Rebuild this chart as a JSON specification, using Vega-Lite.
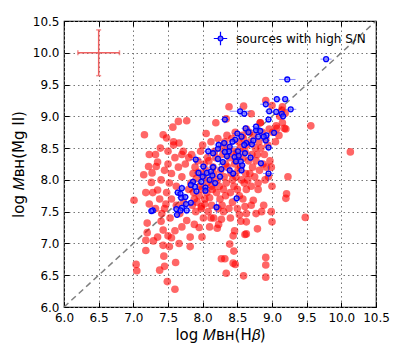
{
  "$schema": "https://vega.github.io/schema/vega-lite/v6.json",
  "autosize": "none",
  "width": 312,
  "height": 286,
  "padding": {"left": 64, "top": 21, "right": 23, "bottom": 43},
  "background": "white",
  "config": {
    "view": {"stroke": "#000000", "strokeWidth": 1.2},
    "font": "DejaVu Sans",
    "axis": {"labelFont": "DejaVu Sans", "titleFont": "DejaVu Sans", "labelFontSize": 12, "titleFontSize": 15, "labelColor": "#000", "titleColor": "#000", "titleFontWeight": "normal", "tickColor": "#000", "domain": false, "labelOverlap": false, "labelFlush": false}
  },
  "datasets": {
    "diag": [{"x": 6.0, "y": 6.0, "x2": 10.5, "y2": 10.5}],
    "red": [
      {"x":7.01,"y":7.68},{"x":7.04,"y":6.67},{"x":7.05,"y":6.57},{"x":7.16,"y":8.71},{"x":7.15,"y":8.08},{"x":7.18,"y":7.80},{"x":7.23,"y":7.62},{"x":7.20,"y":7.32},{"x":7.20,"y":7.17},{"x":7.18,"y":7.05},{"x":7.18,"y":6.89},{"x":7.29,"y":7.04},{"x":7.23,"y":8.40},{"x":7.32,"y":8.40},{"x":7.33,"y":8.21},{"x":7.22,"y":8.21},{"x":7.27,"y":8.11},{"x":7.26,"y":7.96},{"x":7.35,"y":7.84},{"x":7.38,"y":6.58},{"x":7.43,"y":6.97},{"x":7.44,"y":6.80},{"x":7.45,"y":6.64},{"x":7.39,"y":8.50},{"x":7.43,"y":8.71},{"x":7.48,"y":8.66},{"x":7.43,"y":7.21},{"x":7.41,"y":7.47},{"x":7.47,"y":7.62},{"x":7.53,"y":7.40},{"x":7.50,"y":7.12},{"x":7.55,"y":7.09},{"x":7.49,"y":6.40},{"x":7.60,"y":6.28},{"x":7.61,"y":6.70},{"x":7.57,"y":8.83},{"x":7.58,"y":8.55},{"x":7.65,"y":8.92},{"x":7.77,"y":8.93},{"x":7.66,"y":8.58},{"x":7.72,"y":8.45},{"x":7.70,"y":7.26},{"x":7.82,"y":6.95},{"x":7.82,"y":7.10},{"x":7.67,"y":7.47},{"x":7.77,"y":7.36},{"x":7.35,"y":8.28},{"x":7.40,"y":8.00},{"x":7.45,"y":8.15},{"x":7.50,"y":8.25},{"x":7.55,"y":8.10},{"x":7.52,"y":7.95},{"x":7.48,"y":7.80},{"x":7.60,"y":8.35},{"x":7.65,"y":8.20},{"x":7.70,"y":8.05},{"x":7.62,"y":7.90},{"x":7.55,"y":7.70},{"x":7.45,"y":7.55},{"x":7.38,"y":7.70},{"x":7.32,"y":7.55},{"x":7.28,"y":7.80},{"x":7.58,"y":8.60},{"x":7.50,"y":8.45},{"x":7.70,"y":8.40},{"x":7.75,"y":8.25},{"x":7.62,"y":7.60},{"x":7.72,"y":7.65},{"x":7.80,"y":8.35},{"x":7.80,"y":7.85},{"x":7.85,"y":7.60},{"x":7.88,"y":7.30},{"x":7.60,"y":7.20},{"x":7.40,"y":7.35},{"x":7.35,"y":7.10},{"x":7.52,"y":6.95},{"x":7.66,"y":7.00},
      {"x":7.86,"y":8.10},{"x":7.83,"y":7.95},{"x":7.87,"y":7.80},{"x":7.84,"y":8.40},{"x":7.88,"y":7.70},{"x":7.91,"y":8.02},{"x":7.89,"y":8.20},{"x":7.92,"y":7.65},{"x":7.90,"y":7.50},{"x":7.93,"y":8.30},{"x":7.96,"y":7.90},{"x":7.94,"y":8.12},{"x":7.97,"y":8.45},{"x":7.95,"y":7.75},{"x":7.98,"y":7.58},{"x":8.01,"y":8.05},{"x":7.99,"y":7.85},{"x":8.02,"y":8.25},{"x":8.00,"y":8.55},{"x":8.03,"y":7.70},{"x":7.98,"y":7.55},{"x":8.01,"y":7.40},{"x":8.06,"y":7.95},{"x":8.04,"y":8.15},{"x":8.07,"y":8.35},{"x":8.05,"y":8.73},{"x":8.03,"y":7.62},{"x":8.06,"y":7.80},{"x":8.11,"y":8.00},{"x":8.09,"y":8.30},{"x":8.12,"y":8.60},{"x":8.10,"y":7.72},{"x":8.08,"y":7.50},{"x":8.13,"y":7.90},{"x":8.16,"y":8.10},{"x":8.14,"y":7.85},{"x":8.17,"y":8.45},{"x":8.15,"y":8.20},{"x":8.13,"y":7.60},{"x":8.16,"y":7.40},{"x":8.21,"y":8.00},{"x":8.19,"y":8.35},{"x":8.22,"y":8.65},{"x":8.20,"y":7.80},{"x":8.19,"y":8.90},{"x":8.22,"y":7.55},{"x":8.26,"y":8.15},{"x":8.24,"y":7.90},{"x":8.27,"y":8.50},{"x":8.25,"y":7.70},{"x":8.23,"y":7.30},{"x":8.31,"y":8.05},{"x":8.29,"y":8.40},{"x":8.32,"y":8.60},{"x":8.30,"y":7.85},{"x":8.28,"y":7.60},{"x":8.33,"y":8.25},{"x":8.36,"y":8.20},{"x":8.34,"y":7.95},{"x":8.37,"y":8.50},{"x":8.35,"y":8.70},{"x":8.33,"y":7.75},{"x":8.34,"y":8.96},{"x":8.41,"y":8.10},{"x":8.39,"y":8.35},{"x":8.42,"y":8.65},{"x":8.40,"y":7.80},{"x":8.38,"y":7.55},{"x":8.43,"y":8.00},{"x":8.46,"y":8.25},{"x":8.44,"y":8.45},{"x":8.47,"y":8.75},{"x":8.45,"y":7.90},{"x":8.43,"y":7.65},{"x":8.48,"y":8.05},{"x":8.51,"y":8.15},{"x":8.49,"y":8.40},{"x":8.52,"y":8.60},{"x":8.50,"y":7.85},{"x":8.48,"y":8.30},{"x":8.53,"y":7.45},{"x":8.56,"y":8.00},{"x":8.54,"y":8.50},{"x":8.57,"y":8.70},{"x":8.55,"y":8.20},{"x":8.53,"y":7.75},{"x":8.58,"y":8.35},{"x":8.61,"y":8.45},{"x":8.59,"y":8.65},{"x":8.62,"y":8.10},{"x":8.60,"y":7.95},{"x":8.58,"y":7.70},{"x":8.63,"y":8.80},{"x":8.61,"y":7.58},{"x":8.66,"y":8.30},{"x":8.64,"y":8.55},{"x":8.67,"y":8.75},{"x":8.65,"y":8.00},{"x":8.63,"y":7.85},{"x":8.71,"y":8.40},{"x":8.69,"y":8.60},{"x":8.72,"y":8.20},{"x":8.70,"y":7.90},{"x":8.68,"y":8.10},{"x":8.76,"y":8.50},{"x":8.74,"y":8.70},{"x":8.77,"y":8.30},{"x":8.75,"y":8.05},{"x":8.73,"y":7.68},{"x":8.81,"y":8.60},{"x":8.79,"y":8.40},{"x":8.82,"y":8.15},{"x":8.80,"y":7.95},{"x":8.86,"y":8.75},{"x":8.84,"y":8.50},{"x":8.87,"y":8.25},{"x":8.85,"y":7.50},{"x":8.83,"y":8.90},{"x":8.91,"y":8.65},{"x":8.89,"y":8.40},{"x":8.92,"y":8.20},{"x":8.90,"y":8.00},{"x":8.88,"y":7.60},{"x":8.96,"y":8.80},{"x":8.94,"y":8.55},{"x":8.97,"y":8.30},{"x":8.95,"y":8.05},{"x":9.01,"y":8.75},{"x":8.99,"y":8.20},{"x":9.00,"y":7.90},{"x":8.99,"y":7.50},{"x":9.00,"y":7.34},{"x":9.00,"y":9.17},{"x":9.05,"y":8.60},{"x":9.06,"y":8.85},{"x":9.10,"y":8.70},{"x":9.11,"y":9.00},{"x":9.15,"y":8.90},{"x":9.14,"y":9.10},{"x":9.20,"y":8.80},{"x":9.19,"y":9.05},{"x":9.23,"y":8.05},{"x":9.21,"y":7.78},{"x":9.20,"y":7.71},
      {"x":8.10,"y":7.26},{"x":8.21,"y":7.24},{"x":8.12,"y":7.40},{"x":8.27,"y":7.38},{"x":7.95,"y":7.25},{"x":7.99,"y":7.10},{"x":8.39,"y":6.99},{"x":8.45,"y":6.88},{"x":8.27,"y":6.76},{"x":8.32,"y":6.76},{"x":8.34,"y":6.53},{"x":8.44,"y":6.69},{"x":8.47,"y":6.67},{"x":8.59,"y":6.49},{"x":8.44,"y":7.12},{"x":8.46,"y":7.20},{"x":8.61,"y":7.14},{"x":8.63,"y":7.15},{"x":8.63,"y":7.34},{"x":8.63,"y":7.47},{"x":8.79,"y":7.23},{"x":8.77,"y":7.47},{"x":8.91,"y":6.66},{"x":8.91,"y":6.78},{"x":8.91,"y":6.47},{"x":9.48,"y":7.41},{"x":9.56,"y":8.85},{"x":10.13,"y":8.44},{"x":8.70,"y":9.04},{"x":8.83,"y":8.90},{"x":8.91,"y":9.25},{"x":9.15,"y":9.15},{"x":9.07,"y":8.81},{"x":9.18,"y":8.81},{"x":8.55,"y":7.35},{"x":8.50,"y":7.55},{"x":8.40,"y":7.40},{"x":8.30,"y":7.50},{"x":8.70,"y":7.60},{"x":8.80,"y":7.85},{"x":8.59,"y":9.16},{"x":8.38,"y":9.15}
    ],
    "blue": [
      {"x":9.78,"y":9.90,"xe":0.08,"ye":0.03},{"x":9.22,"y":9.58,"xe":0.12,"ye":0.03},{"x":9.07,"y":9.27,"xe":0.06,"ye":0.05},{"x":9.19,"y":9.27,"xe":0.05,"ye":0.04},{"x":8.91,"y":9.19,"xe":0.08,"ye":0.06},{"x":8.96,"y":9.08,"xe":0.06,"ye":0.05},{"x":9.27,"y":9.11,"xe":0.08,"ye":0.04},{"x":9.06,"y":9.07,"xe":0.05,"ye":0.05},{"x":9.14,"y":9.04,"xe":0.05,"ye":0.05},{"x":9.16,"y":9.00,"xe":0.04,"ye":0.04},{"x":8.54,"y":9.08,"xe":0.15,"ye":0.08},{"x":8.60,"y":9.04,"xe":0.07,"ye":0.05},{"x":8.32,"y":8.95,"xe":0.06,"ye":0.06},{"x":8.95,"y":8.95,"xe":0.05,"ye":0.05},{"x":9.03,"y":8.74,"xe":0.08,"ye":0.05},{"x":8.91,"y":8.62,"xe":0.06,"ye":0.05},{"x":8.92,"y":8.70,"xe":0.05,"ye":0.05},{"x":8.95,"y":8.51,"xe":0.06,"ye":0.06},{"x":8.77,"y":8.78,"xe":0.08,"ye":0.05},{"x":8.83,"y":8.77,"xe":0.06,"ye":0.04},{"x":8.62,"y":8.81,"xe":0.06,"ye":0.05},{"x":8.66,"y":8.75,"xe":0.06,"ye":0.05},{"x":8.50,"y":8.73,"xe":0.07,"ye":0.06},{"x":8.56,"y":8.68,"xe":0.05,"ye":0.05},{"x":8.47,"y":8.63,"xe":0.06,"ye":0.05},{"x":8.43,"y":8.60,"xe":0.05,"ye":0.05},{"x":8.39,"y":8.52,"xe":0.10,"ye":0.06},{"x":8.31,"y":8.58,"xe":0.06,"ye":0.05},{"x":8.23,"y":8.55,"xe":0.06,"ye":0.06},{"x":8.22,"y":8.49,"xe":0.05,"ye":0.05},{"x":8.15,"y":8.42,"xe":0.07,"ye":0.06},{"x":8.08,"y":8.45,"xe":0.06,"ye":0.08},{"x":8.38,"y":8.45,"xe":0.07,"ye":0.06},{"x":8.51,"y":8.45,"xe":0.06,"ye":0.05},{"x":8.61,"y":8.42,"xe":0.08,"ye":0.06},{"x":8.71,"y":8.56,"xe":0.06,"ye":0.05},{"x":8.73,"y":8.62,"xe":0.05,"ye":0.05},{"x":8.55,"y":8.29,"xe":0.06,"ye":0.06},{"x":8.57,"y":8.23,"xe":0.05,"ye":0.05},{"x":8.56,"y":8.15,"xe":0.05,"ye":0.06},{"x":8.69,"y":8.35,"xe":0.06,"ye":0.06},{"x":8.84,"y":8.26,"xe":0.04,"ye":0.04},{"x":8.95,"y":8.10,"xe":0.08,"ye":0.12},{"x":8.49,"y":7.71,"xe":0.06,"ye":0.06},{"x":8.20,"y":7.57,"xe":0.06,"ye":0.10},{"x":7.90,"y":8.32,"xe":0.08,"ye":0.08},{"x":8.01,"y":8.21,"xe":0.06,"ye":0.06},{"x":8.15,"y":8.20,"xe":0.07,"ye":0.06},{"x":8.27,"y":8.17,"xe":0.06,"ye":0.06},{"x":8.39,"y":8.15,"xe":0.06,"ye":0.06},{"x":8.44,"y":8.10,"xe":0.05,"ye":0.05},{"x":7.86,"y":7.97,"xe":0.06,"ye":0.06},{"x":7.89,"y":7.89,"xe":0.05,"ye":0.06},{"x":7.91,"y":7.82,"xe":0.05,"ye":0.05},{"x":7.98,"y":7.97,"xe":0.06,"ye":0.06},{"x":8.04,"y":7.88,"xe":0.06,"ye":0.06},{"x":8.04,"y":7.83,"xe":0.05,"ye":0.05},{"x":8.06,"y":8.11,"xe":0.06,"ye":0.06},{"x":8.10,"y":8.00,"xe":0.06,"ye":0.06},{"x":8.18,"y":7.95,"xe":0.06,"ye":0.05},{"x":8.12,"y":8.13,"xe":0.05,"ye":0.05},{"x":8.25,"y":8.05,"xe":0.06,"ye":0.06},{"x":7.94,"y":8.11,"xe":0.06,"ye":0.06},{"x":7.83,"y":7.92,"xe":0.05,"ye":0.05},{"x":7.70,"y":7.87,"xe":0.06,"ye":0.06},{"x":7.64,"y":7.80,"xe":0.05,"ye":0.05},{"x":7.68,"y":7.78,"xe":0.06,"ye":0.06},{"x":7.69,"y":7.72,"xe":0.06,"ye":0.06},{"x":7.75,"y":7.73,"xe":0.05,"ye":0.05},{"x":7.83,"y":7.64,"xe":0.07,"ye":0.06},{"x":7.76,"y":7.62,"xe":0.06,"ye":0.06},{"x":7.77,"y":7.52,"xe":0.06,"ye":0.06},{"x":7.70,"y":7.56,"xe":0.05,"ye":0.05},{"x":7.62,"y":7.54,"xe":0.06,"ye":0.06},{"x":7.68,"y":7.52,"xe":0.05,"ye":0.06},{"x":7.63,"y":7.45,"xe":0.05,"ye":0.05},{"x":7.28,"y":7.52,"xe":0.06,"ye":0.06},{"x":7.26,"y":7.51,"xe":0.04,"ye":0.04},{"x":8.22,"y":8.33,"xe":0.06,"ye":0.06},{"x":8.35,"y":8.37,"xe":0.06,"ye":0.06},{"x":8.46,"y":8.36,"xe":0.06,"ye":0.05},{"x":8.29,"y":8.28,"xe":0.05,"ye":0.05},{"x":8.48,"y":8.29,"xe":0.06,"ye":0.06},{"x":8.63,"y":8.58,"xe":0.06,"ye":0.06},{"x":8.77,"y":8.84,"xe":0.06,"ye":0.05},{"x":8.00,"y":8.05,"xe":0.06,"ye":0.06},{"x":8.14,"y":8.07,"xe":0.05,"ye":0.05},{"x":8.32,"y":8.44,"xe":0.06,"ye":0.05},{"x":8.60,"y":8.55,"xe":0.05,"ye":0.05},{"x":8.80,"y":8.68,"xe":0.06,"ye":0.05},{"x":8.88,"y":8.68,"xe":0.06,"ye":0.05},{"x":8.52,"y":8.38,"xe":0.05,"ye":0.05}
    ],
    "cross": [{"x": 6.5, "y": 10.0, "xe": 0.3, "ye": 0.36}]
  },
  "layer": [
    {
      "data": {"name": "diag"},
      "mark": {"type": "rule", "color": "#7f7f7f", "strokeDash": [6, 4], "strokeWidth": 1.5},
      "encoding": {
        "x": {"field": "x", "type": "quantitative", "scale": {"domain": [6, 10.5], "nice": false, "zero": false},
          "axis": {"orient": "top", "values": [6,6.5,7,7.5,8,8.5,9,9.5,10,10.5], "labels": false, "tickSize": -5, "grid": false, "title": null}},
        "y": {"field": "y", "type": "quantitative", "scale": {"domain": [6, 10.5], "nice": false, "zero": false},
          "axis": {"orient": "right", "values": [6,6.5,7,7.5,8,8.5,9,9.5,10,10.5], "labels": false, "tickSize": -5, "grid": false, "title": null}},
        "x2": {"field": "x2"},
        "y2": {"field": "y2"}
      }
    },
    {
      "data": {"name": "red"},
      "mark": {"type": "point", "filled": true, "color": "#ff0000", "opacity": 0.6, "size": 58, "strokeWidth": 0},
      "encoding": {
        "x": {"field": "x", "type": "quantitative",
          "axis": {"orient": "bottom", "values": [6,6.5,7,7.5,8,8.5,9,9.5,10,10.5], "format": ".1f", "tickSize": -5, "labelPadding": 10, "grid": true, "gridDash": [1.5, 3], "gridColor": "#777", "gridWidth": 1, "title": "log 𝑀ʙʜ(H𝛽)", "titlePadding": 4}},
        "y": {"field": "y", "type": "quantitative",
          "axis": {"orient": "left", "values": [6,6.5,7,7.5,8,8.5,9,9.5,10,10.5], "format": ".1f", "tickSize": -5, "labelPadding": 10, "grid": true, "gridDash": [1.5, 3], "gridColor": "#777", "gridWidth": 1, "title": "log 𝑀ʙʜ(Mg II)", "titlePadding": 6}}
      }
    },
    {
      "data": {"name": "blue"},
      "mark": {"type": "errorbar", "color": "#3333ff", "opacity": 0.55, "thickness": 1},
      "encoding": {
        "x": {"field": "x", "type": "quantitative", "axis": null},
        "xError": {"field": "xe"},
        "y": {"field": "y", "type": "quantitative", "axis": null}
      }
    },
    {
      "data": {"name": "blue"},
      "mark": {"type": "errorbar", "color": "#3333ff", "opacity": 0.55, "thickness": 1},
      "encoding": {
        "y": {"field": "y", "type": "quantitative", "axis": null},
        "yError": {"field": "ye"},
        "x": {"field": "x", "type": "quantitative", "axis": null}
      }
    },
    {
      "data": {"name": "blue"},
      "mark": {"type": "point", "filled": false, "fill": "#7070ff", "fillOpacity": 0.45, "strokeWidth": 1.3, "size": 24, "opacity": 1},
      "encoding": {
        "x": {"field": "x", "type": "quantitative", "axis": null},
        "y": {"field": "y", "type": "quantitative", "axis": null},
        "stroke": {"datum": "sources with high S/N", "type": "nominal", "scale": {"range": ["#0000ff"]},
          "legend": {"title": null, "orient": "top-right", "offset": 10, "labelFont": "DejaVu Sans", "labelFontSize": 12, "labelColor": "#000", "symbolType": "M-0.35,0A0.35,0.35 0 1,1 0.35,0A0.35,0.35 0 1,1 -0.35,0ZM-1,0L-0.35,0M0.35,0L1,0M0,-1L0,-0.35M0,0.35L0,1", "symbolSize": 180, "symbolStrokeWidth": 1.2, "symbolFillColor": "#9999ff", "symbolOffset": 0, "labelOffset": 8}}
      }
    },
    {
      "data": {"name": "cross"},
      "mark": {"type": "errorbar", "color": "#f06060", "thickness": 1.5, "ticks": {"size": 5, "thickness": 1.5}},
      "encoding": {
        "x": {"field": "x", "type": "quantitative", "axis": null},
        "xError": {"field": "xe"},
        "y": {"field": "y", "type": "quantitative", "axis": null}
      }
    },
    {
      "data": {"name": "cross"},
      "mark": {"type": "errorbar", "color": "#f06060", "thickness": 1.5, "ticks": {"size": 5, "thickness": 1.5}},
      "encoding": {
        "y": {"field": "y", "type": "quantitative", "axis": null},
        "yError": {"field": "ye"},
        "x": {"field": "x", "type": "quantitative", "axis": null}
      }
    }
  ],
  "resolve": {"axis": {"x": "independent", "y": "independent"}}
}
